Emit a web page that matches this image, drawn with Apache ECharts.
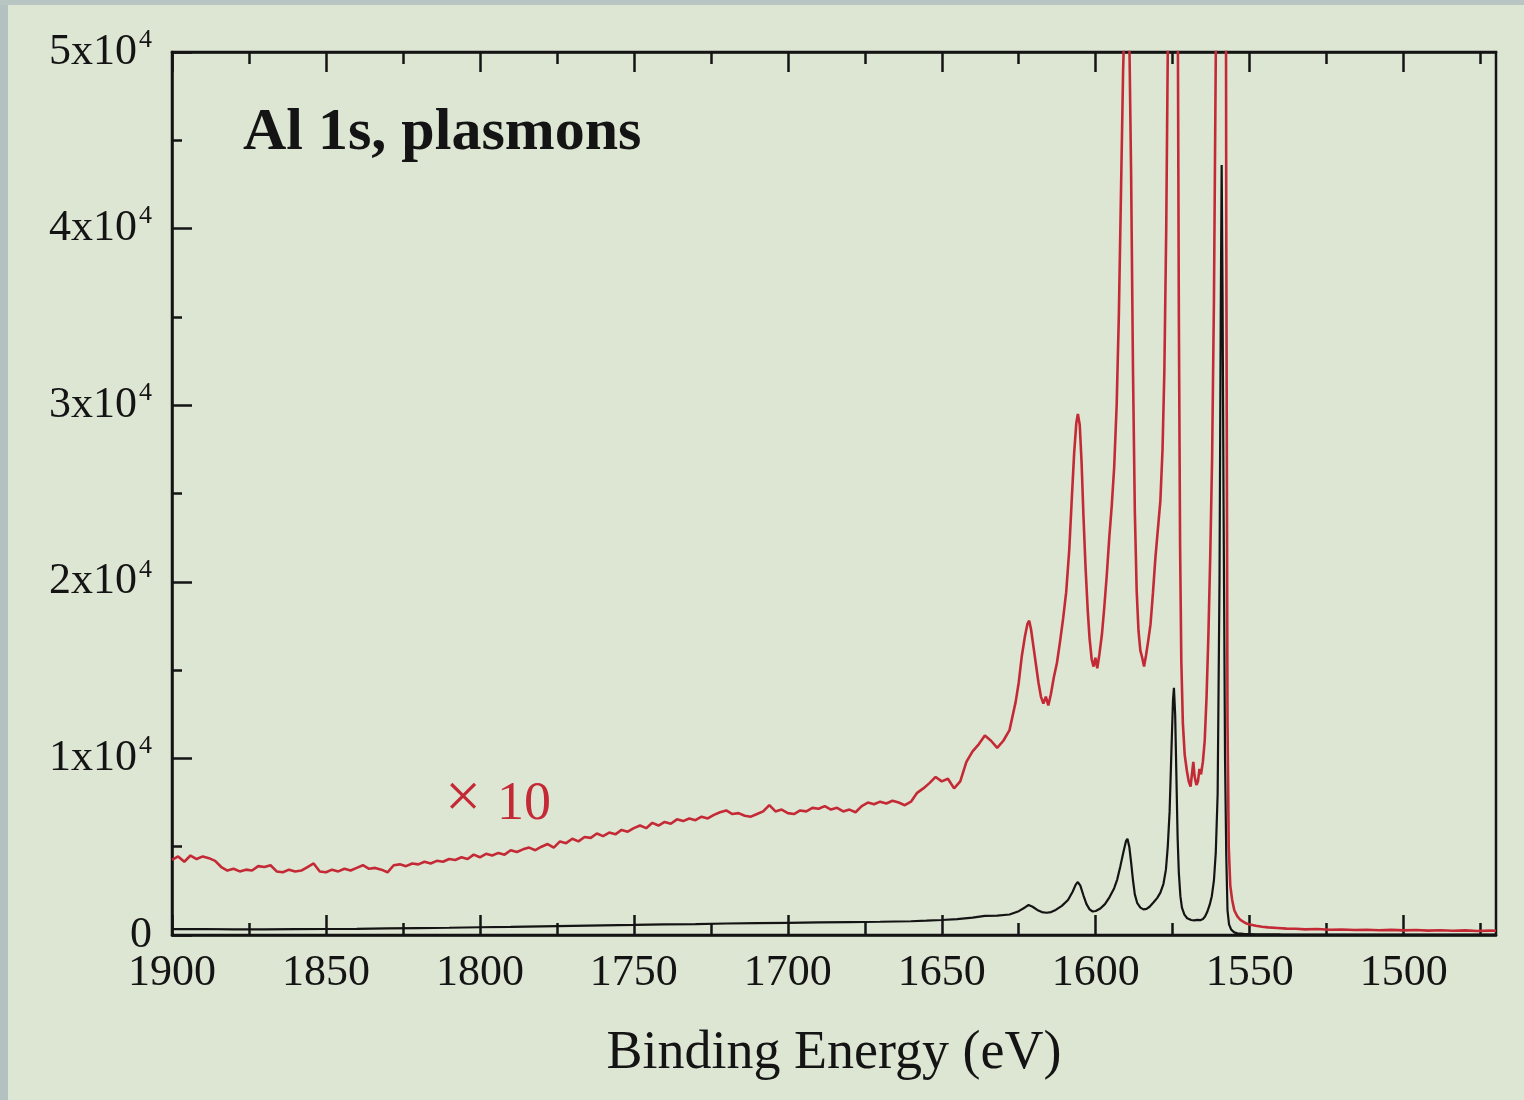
<!DOCTYPE html>
<html>
<head>
<meta charset="utf-8">
<script src="https://cdn.jsdelivr.net/npm/echarts@6/dist/echarts.min.js"></script>
<style>
html,body{margin:0;padding:0;background:#dde5d3;}
#chart{width:1524px;height:1100px;}
</style>
</head>
<body>
<div id="chart"></div>
<script>
// ---- Data ----
const xMajorTicks = [1900, 1850, 1800, 1750, 1700, 1650, 1600, 1550, 1500];
const xMinorTicks = [1875, 1825, 1775, 1725, 1675, 1625, 1575, 1525, 1475];
const yTickValues = [0, 10000, 20000, 30000, 40000, 50000];
const yTickMantissa = ['0', '1', '2', '3', '4', '5'];

// Red trace (x10 magnified spectrum)
const redEV = [
 1900,1898,1896,1894,1892,1890,1888,1886,1884,1882,1880,1878,1876,1874,1872,1870,1868,1866,1864,1862,
 1860,1858,1856,1854,1852,1850,1848,1846,1844,1842,1840,1838,1836,1834,1832,1830,1828,1826,1824,1822,
 1820,1818,1816,1814,1812,1810,1808,1806,1804,1802,1800,1798,1796,1794,1792,1790,1788,1786,1784,1782,
 1780,1778,1776,1774,1772,1770,1768,1766,1764,1762,1760,1758,1756,1754,1752,1750,1748,1746,1744,1742,
 1740,1738,1736,1734,1732,1730,1728,1726,1724,1722,1720,1718,1716,1714,1712,1710,1708,1706,1704,1702,
 1700,1698,1696,1694,1692,1690,1688,1686,1684,1682,1680,1678,1676,1674,1672,1670,1668,1666,1664,1662,
 1660,1658,1656,1654,1652,1650,1648,1646,1644,1642,1640,1638,1636,1634,1632,1630,1628,1626,
 1625,1624,1623,1622.2,1621.6,1621,1620.2,1619.4,1618.6,1617.8,1617,1616.2,1615.4,1614.6,1613.6,1612.6,
 1611.6,1610.6,1609.6,1608.6,1607.8,1607,1606.3,1605.8,1605.2,1604.6,1604,1603.3,1602.6,1602,1601.3,
 1600.7,1600.1,1599.5,1598.8,1598,1597.2,1596.4,1595.6,1594.8,1594,1593.2,1592.5,1591.8,1591.1,1590.4,
 1589.7,1589.1,1588.5,1587.9,1587.3,1586.7,1586.1,1585.5,1584.9,1584.3,1583.7,1583,1582.2,1581.4,1580.6,
 1579.8,1579,1578.3,1577.7,1577.1,1576.6,1576,1575.4,1574.9,1574.6,1574.2,1573.8,1573.4,1573,1572.6,
 1572.2,1571.7,1571.1,1570.4,1569.8,1569.2,1568.7,1568.3,1567.9,1567.3,1566.8,1566.3,1565.8,1565.2,1564.6,
 1564,1563.4,1562.8,1562.2,1561.6,1561,1560.4,1559.8,1559.1,1558.5,1558,1557.6,1557.2,1556.8,1556.3,
 1555.7,1555,1554,1553,1552,1551,1550,1548,1546,1544,1541,1538,1535,1532,1528,1524,1520,1516,1512,
 1508,1504,1500,1496,1492,1488,1484,1480,1476,1472,1470
];
const redCounts = [
 4250,4450,4150,4500,4300,4450,4350,4200,3850,3650,3750,3600,3700,3650,3900,3850,3950,3600,3550,3700,
 3600,3650,3850,4050,3600,3550,3700,3600,3750,3650,3800,3950,3750,3800,3700,3550,3950,4000,3900,4050,
 4000,4150,4050,4200,4150,4300,4250,4400,4300,4550,4400,4600,4500,4650,4550,4800,4700,4850,4950,4800,
 5000,5150,4950,5300,5200,5450,5300,5550,5500,5750,5600,5800,5700,5950,5850,6050,6200,6050,6350,6200,
 6400,6300,6550,6450,6600,6500,6700,6600,6800,6950,7050,6850,6900,6750,6700,6850,7000,7350,7000,7100,
 6900,6850,7050,7000,7200,7150,7300,7100,7200,7000,7100,6950,7300,7500,7400,7550,7450,7600,7500,7350,
 7550,8050,8300,8600,8950,8700,8850,8300,8700,9800,10400,10800,11300,11000,10600,11000,11600,13200,
 14300,15800,16900,17600,17800,17300,16300,15300,14300,13500,13100,13500,13000,13600,14600,15400,
 16600,17900,19400,21800,24600,27300,29000,29500,28900,26800,23800,20800,18400,16800,15600,
 15200,15700,15100,15900,17000,18600,20400,22500,24300,26500,30000,35000,42000,49000,53500,
 55000,51000,43000,32000,24000,19500,17200,16100,15700,15200,15800,16600,17600,19400,21400,
 23000,24600,27500,32000,40000,50000,70000,105000,135000,140000,125000,90000,55000,35000,22000,
 15500,12000,10200,9300,8700,8400,9200,9800,9000,8500,8700,9400,9100,9800,11000,
 13500,17000,21500,27000,36000,50000,80000,200000,436000,250000,90000,40000,12000,5000,2800,
 2000,1400,1050,850,750,650,600,520,470,430,400,360,350,320,340,300,310,280,300,
 270,290,260,280,250,270,240,260,230,250,240
];

// Black trace (raw spectrum)
const blackEV = [
 1900,1890,1880,1870,1860,1850,1840,1830,1820,1810,1800,1790,1780,1770,1760,1750,1740,1730,1720,1710,
 1700,1690,1680,1670,1660,1655,1650,1645,1640,1636,1632,1628,1625,1623,1621.8,1620.5,1619,1617.5,1616,
 1614.5,1613,1611,1609,1607.5,1606.5,1605.8,1605,1604,1603,1602,1601,1600,1598.5,1597,1595.5,1594,1593,
 1592,1591,1590.2,1589.7,1589.1,1588.5,1587.9,1587.3,1586.5,1585.5,1584.5,1583.5,1582.5,1581.2,1580,
 1579,1578,1577.2,1576.6,1576,1575.4,1574.9,1574.6,1574.2,1573.8,1573.4,1573,1572.5,1572,1571.2,1570.3,
 1569,1568,1567,1566,1565.2,1564.5,1563.8,1563,1562.3,1561.6,1561,1560.4,1559.8,1559.4,1559.1,1558.8,
 1558.5,1558,1557.6,1557.2,1556.7,1556,1555,1554,1552,1548,1540,1530,1510,1490,1470
];
const blackCounts = [
 330,340,320,320,330,340,350,370,390,410,440,460,490,520,550,570,600,620,650,670,
 690,710,730,750,780,810,850,900,980,1080,1100,1160,1350,1560,1700,1600,1420,1300,1260,
 1300,1420,1650,1980,2450,2850,3000,2800,2250,1750,1450,1330,1360,1500,1750,2150,2650,3150,
 3900,4700,5300,5450,5000,4100,3100,2300,1800,1550,1450,1480,1600,1850,2100,
 2400,2900,3700,5000,7000,10500,13300,14000,12500,9000,5500,3500,2200,1550,1150,950,
 850,830,860,840,900,1050,1300,1700,2200,3100,4700,8000,20000,35000,43600,36000,
 25000,10000,4500,1400,600,300,150,90,60,40,30,25,20,20,20
];

// ---- Chart ----
const SERIF = '"Liberation Serif", "DejaVu Serif", serif';
const INK = '#141414';
const RED = '#c42a36';

const redData = redEV.map((e, i) => [e, redCounts[i]]);
const blackData = blackEV.map((e, i) => [e, blackCounts[i]]);

const gridRect = { left: 172, right: 28, top: 52, bottom: 165 };

function xAxisBase(gridIndex, position) {
  return {
    type: 'value', gridIndex, position, min: 1470, max: 1900, inverse: true,
    splitLine: { show: false }
  };
}

const chart = echarts.init(document.getElementById('chart'));
chart.setOption({
  backgroundColor: '#dde5d3',
  animation: false,
  grid: [
    Object.assign({ show: true, borderColor: INK, borderWidth: 2.5, backgroundColor: 'transparent' }, gridRect),
    Object.assign({ show: false }, gridRect)
  ],
  xAxis: [
    Object.assign(xAxisBase(0, 'bottom'), {
      axisLine: { show: true, onZero: false, lineStyle: { color: INK, width: 2.5 } },
      axisTick: { show: true, inside: true, length: 20, customValues: xMajorTicks, lineStyle: { color: INK, width: 2.5 } },
      axisLabel: { show: true, customValues: xMajorTicks, fontFamily: SERIF, fontSize: 44, color: INK, margin: 16,
        formatter: function (v) { return String(v); } },
      name: 'Binding Energy (eV)', nameLocation: 'middle', nameGap: 92,
      nameTextStyle: { fontFamily: SERIF, fontSize: 54, color: INK }
    }),
    Object.assign(xAxisBase(0, 'top'), {
      axisLine: { show: true, onZero: false, lineStyle: { color: INK, width: 2.5 } },
      axisTick: { show: true, inside: true, length: 20, customValues: xMajorTicks, lineStyle: { color: INK, width: 2.5 } },
      axisLabel: { show: false }
    }),
    Object.assign(xAxisBase(1, 'bottom'), {
      axisLine: { show: false, onZero: false },
      axisTick: { show: true, inside: true, length: 12, customValues: xMinorTicks, lineStyle: { color: INK, width: 2.5 } },
      axisLabel: { show: false }
    }),
    Object.assign(xAxisBase(1, 'top'), {
      axisLine: { show: false, onZero: false },
      axisTick: { show: true, inside: true, length: 12, customValues: xMinorTicks, lineStyle: { color: INK, width: 2.5 } },
      axisLabel: { show: false }
    })
  ],
  yAxis: [
    {
      type: 'value', gridIndex: 0, min: 0, max: 50000, interval: 10000,
      axisLine: { show: true, onZero: false, lineStyle: { color: INK, width: 2.5 } },
      axisTick: { show: true, inside: true, length: 20, lineStyle: { color: INK, width: 2.5 } },
      minorTick: { show: true, splitNumber: 2, length: 10, lineStyle: { color: INK, width: 2.5 } },
      splitLine: { show: false },
      axisLabel: {
        margin: 20, color: INK, fontFamily: SERIF, fontSize: 44,
        formatter: function (v) {
          const i = yTickValues.indexOf(v);
          const m = yTickMantissa[i];
          if (v === 0) return '{m|' + m + '}';
          return '{m|' + m + 'x10}{s|4}';
        },
        rich: {
          m: { fontFamily: SERIF, fontSize: 44, color: INK },
          s: { fontFamily: SERIF, fontSize: 26, color: INK, padding: [0, 0, 24, 2] }
        }
      }
    },
    {
      type: 'value', gridIndex: 1, min: 0, max: 50000, show: false
    }
  ],
  series: [
    {
      type: 'line', xAxisIndex: 0, yAxisIndex: 0, data: redData, showSymbol: false, symbol: 'none',
      clip: true, z: 3, lineStyle: { color: RED, width: 2.6 }
    },
    {
      type: 'line', xAxisIndex: 0, yAxisIndex: 0, data: blackData, showSymbol: false, symbol: 'none',
      clip: true, z: 4, lineStyle: { color: INK, width: 2.2 }
    }
  ],
  graphic: [
    { type: 'rect', left: 0, top: 0, shape: { width: 8, height: 1100 }, style: { fill: '#b3c1c1' }, silent: true },
    { type: 'rect', left: 0, top: 0, shape: { width: 1524, height: 5 }, style: { fill: '#b9c5c3' }, silent: true },
    {
      type: 'text', x: 243, y: 133,
      style: { text: 'Al 1s, plasmons', fontFamily: SERIF, fontSize: 60, fontWeight: 'bold', fill: INK, verticalAlign: 'middle', align: 'left' }
    },
    {
      type: 'text', x: 445, y: 800,
      style: { text: '\u00d7', fontFamily: SERIF, fontSize: 64, fill: RED, verticalAlign: 'middle', align: 'left' }
    },
    {
      type: 'text', x: 497, y: 805,
      style: { text: '10', fontFamily: SERIF, fontSize: 54, fill: RED, verticalAlign: 'middle', align: 'left' }
    }
  ]
});
</script>
</body>
</html>
